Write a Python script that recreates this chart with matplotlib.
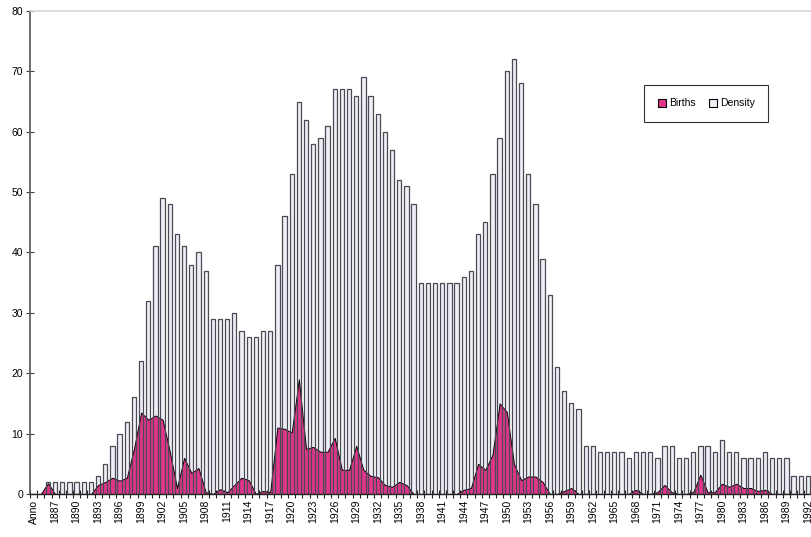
import matplotlib
matplotlib.use('Agg')
import matplotlib.pyplot as plt
from matplotlib.patches import Patch
import numpy as np

plt.rcParams['font.family'] = ['Liberation Sans', 'DejaVu Sans']

# categories: header cell "Anno" then one per year
years = list(range(1885, 1993))
categories = ['Anno'] + [str(y) for y in years]

density = [0, 2, 2, 2, 2, 2, 2, 2, 3, 5, 8, 10, 12, 16, 22,   # 1885-1899
           32, 41, 49, 48, 43, 41, 38, 40, 37, 29,           # 1900-1909
           29, 29, 30, 27, 26, 26, 27, 27, 38, 46,           # 1910-1919
           53, 65, 62, 58, 59, 61, 67, 67, 67, 66,           # 1920-1929
           69, 66, 63, 60, 57, 52, 51, 48, 35, 35,           # 1930-1939
           35, 35, 35, 35, 36, 37, 43, 45, 53, 59,           # 1940-1949
           70, 72, 68, 53, 48, 39, 33, 21, 17, 15,           # 1950-1959
           14, 8, 8, 7, 7, 7, 7, 6, 7, 7,                    # 1960-1969
           7, 6, 8, 8, 6, 6, 7, 8, 8, 7,                     # 1970-1979
           9, 7, 7, 6, 6, 6, 7, 6, 6, 6,                     # 1980-1989
           3, 3, 3]                                          # 1990-1992

births = [0, 1.8, 0, 0, 0, 0, 0, 0, 1.5, 2, 2.7, 2.2, 2.7, 7.5, 13.5,   # 1885-1899
          12.3, 13, 12.3, 7, 1, 6, 3.5, 4.3, 0.3, 0,                    # 1900-1909
          0.8, 0.3, 1.5, 2.7, 2.3, 0, 0.5, 0.3, 11, 10.8,               # 1910-1919
          10.2, 19, 7.5, 7.8, 7, 7, 9.3, 4, 4, 8,                       # 1920-1929
          4, 3, 2.8, 1.5, 1.2, 2, 1.5, 0, 0, 0,                         # 1930-1939
          0, 0, 0, 0, 0.7, 1, 5, 4, 6.5, 15,                            # 1940-1949
          13.6, 5, 2.3, 2.9, 2.9, 2, 0, 0, 0.5, 1,                      # 1950-1959
          0, 0, 0, 0, 0, 0, 0, 0, 0.7, 0,                               # 1960-1969
          0, 0.3, 1.5, 0.3, 0, 0, 0.3, 3.2, 0.3, 0.3,                   # 1970-1979
          1.7, 1.2, 1.7, 1, 1, 0.5, 0.7, 0, 0, 0,                       # 1980-1989
          0, 0, 0]                                                      # 1990-1992

pink = '#e2358a'
bar_face = '#eeeef7'

x = np.arange(len(categories))
dens = [0] + density
birt = [0] + births

fig = plt.figure(figsize=(8.12, 5.37), dpi=100)
ax = fig.add_axes([30 / 812, 43 / 537, 782 / 812, 483 / 537])

# bars white first, pink area on top, then bar outlines again
ax.bar(x, dens, width=0.6, color=bar_face, edgecolor='none', zorder=1)
ax.fill_between(x, birt, 0, facecolor=pink, edgecolor='black', linewidth=0.7, zorder=2)
ax.bar(x, dens, width=0.6, color='none', edgecolor='#4a4a55', linewidth=0.9, zorder=3)

ax.set_ylim(0, 80)
ax.set_xlim(-0.5, 108.57)
ax.set_yticks(range(0, 81, 10))

ax.set_xticks(np.arange(-0.5, len(categories), 1), minor=True)
ax.set_xticks(x[::3])
ax.set_xticklabels(categories[::3], rotation=90)
ax.tick_params(axis='x', which='major', length=0, pad=4, labelsize=7.5)
ax.tick_params(axis='x', which='minor', length=6, direction='inout', color='#222222', width=0.8)
ax.tick_params(axis='y', length=6, direction='inout', color='#444444', width=0.8, labelsize=7.5, pad=2)

ax.spines['left'].set_color('#555555')
ax.spines['left'].set_linewidth(1.2)
ax.spines['bottom'].set_color('#222222')
ax.spines['bottom'].set_linewidth(1.0)
ax.spines['bottom'].set_zorder(4)
ax.spines['top'].set_color('#d8d8d8')
ax.spines['top'].set_linewidth(1.2)
ax.spines['right'].set_visible(False)

handles = [Patch(facecolor=pink, edgecolor='black', linewidth=0.8),
           Patch(facecolor=bar_face, edgecolor='black', linewidth=0.8)]
leg = fig.legend(handles, ['Births', 'Density'], loc='center',
                 bbox_to_anchor=(706.5 / 812, 1 - 103.5 / 537), ncol=2,
                 fontsize=7.5, frameon=True, fancybox=False, edgecolor='black',
                 handlelength=0.8, handleheight=0.8, handletextpad=0.3,
                 columnspacing=1.2, borderpad=1.3)
leg.get_frame().set_linewidth(0.8)

fig.savefig('out.png', dpi=100)
